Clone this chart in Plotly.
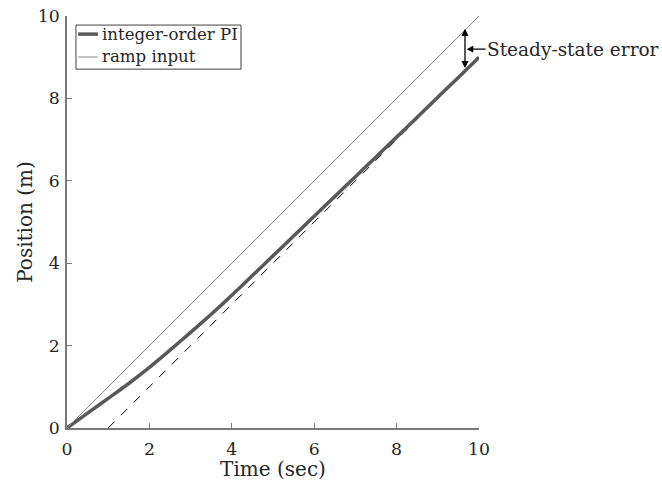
import plotly.graph_objects as go

t = [0, 0.5, 1, 1.5, 2, 2.5, 3, 3.5, 4, 4.5, 5, 5.5, 6, 6.5, 7, 7.5, 8, 8.5, 9, 9.5, 10]
pi_resp = [0, 0.36, 0.72, 1.08, 1.47, 1.89, 2.32, 2.76, 3.22, 3.70, 4.18, 4.66, 5.14, 5.62, 6.10, 6.58, 7.06, 7.54, 8.03, 8.51, 9.0]
ramp_t = [0, 10]
ramp_y = [0, 10]
asym_t = [1, 10]
asym_y = [0, 9]
err_x = 9.66
err_top = 9.69
err_bot = 8.70
label = "Steady-state error"
legend_names = ["integer-order PI", "ramp input"]

FONT = "DejaVu Serif"
TXT = "#262626"
PI_COLOR = "#595959"
RAMP_COLOR = "#8a8a8a"

fig = go.Figure()
fig.add_trace(go.Scatter(x=asym_t, y=asym_y, mode="lines", showlegend=False,
                         line=dict(color="black", width=1, dash="dash")))
fig.add_trace(go.Scatter(x=t, y=pi_resp, mode="lines", name=legend_names[0], showlegend=False,
                         line=dict(color=PI_COLOR, width=3.5, shape="spline", smoothing=0.6)))
fig.add_trace(go.Scatter(x=ramp_t, y=ramp_y, mode="lines", name=legend_names[1], showlegend=False,
                         line=dict(color=RAMP_COLOR, width=1)))

# double-headed arrow
fig.add_annotation(x=err_x, y=err_top, ax=err_x, ay=err_bot, axref="x", ayref="y",
                   xref="x", yref="y", text="", showarrow=True, arrowhead=2,
                   arrowside="end+start", arrowwidth=1.3, arrowsize=1.1, arrowcolor="black")
fig.add_annotation(x=err_x + 0.04, y=(err_top + err_bot) / 2, xref="x", yref="y",
                   text=label, showarrow=True, ax=19, ay=0, arrowhead=2, arrowwidth=1.2,
                   arrowsize=1.1, arrowcolor="black", xanchor="left", borderpad=0,
                   font=dict(family=FONT, size=18.5, color=TXT))

# legend box (drawn manually to match compact layout)
fig.add_shape(type="rect", xref="paper", yref="paper", x0=0.0218, x1=0.4223, y0=0.871, y1=0.978,
              line=dict(color="#404040", width=1), fillcolor="white", layer="above")
for yy, col, w, name in [(0.956, PI_COLOR, 3.5, legend_names[0]), (0.9005, RAMP_COLOR, 1, legend_names[1])]:
    fig.add_shape(type="line", xref="paper", yref="paper", x0=0.027, x1=0.075, y0=yy, y1=yy,
                  line=dict(color=col, width=w), layer="above")
    fig.add_annotation(x=0.081, y=yy, xref="paper", yref="paper", text=name, showarrow=False,
                       xanchor="left", yanchor="middle", font=dict(family=FONT, size=16.6, color=TXT))

axis_common = dict(showgrid=False, zeroline=False, showline=True, linecolor="#7a7a7a",
                   linewidth=1.5, ticks="inside", ticklen=5, tickcolor="#7a7a7a",
                   tickfont=dict(family=FONT, size=17.3, color=TXT), mirror=False,
                   automargin=False)
fig.update_xaxes(range=[0, 10], dtick=2, ticklabelstandoff=4,
                 title=dict(text="Time (sec)", standoff=0,
                            font=dict(family=FONT, size=20, color=TXT)), **axis_common)
fig.update_yaxes(range=[0, 10], dtick=2, ticklabelstandoff=2,
                 title=dict(text="Position (m)", standoff=0,
                            font=dict(family=FONT, size=20, color=TXT)), **axis_common)

fig.update_layout(
    width=662, height=481,
    margin=dict(l=67, r=183, t=16, b=53),
    plot_bgcolor="white", paper_bgcolor="white",
    font=dict(family=FONT, size=16, color=TXT),
    showlegend=False,
)
fig.write_html("out.html", config={"displayModeBar": False},
               post_script="document.body.style.margin='0';document.body.style.overflow='hidden';")
